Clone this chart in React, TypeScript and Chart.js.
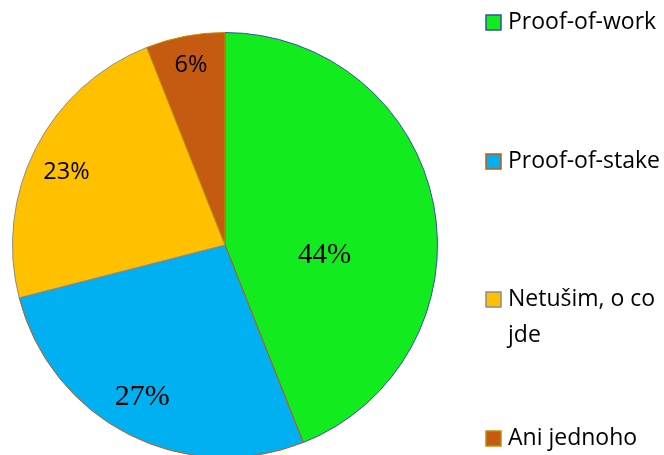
import React, { useEffect, useRef } from "react";
import { Chart, registerables } from "chart.js";

Chart.register(...registerables);

const labels = ["Proof-of-work", "Proof-of-stake", "Netušim, o co jde", "Ani jednoho"];
const values = [44, 27, 23, 6];
const valueLabels = ["44%", "27%", "23%", "6%"];
const legendLines = [["Proof-of-work"], ["Proof-of-stake"], ["Netušim, o co", "jde"], ["Ani jednoho"]];

const fillColors = ["#12EB1E", "#00B0F0", "#FFC000", "#C55A11"];
const borderColors = ["#2F5597", "#C55A11", "#8C8C8C", "#BF9000"];
const labelFonts = [
  "29px 'Liberation Serif'",
  "30px 'Liberation Serif'",
  "23.5px 'Open Sans'",
  "23.5px 'Open Sans'",
];
// label baseline offsets, in units of the pie radius, from the pie centre
const labelOffsets = [
  [0.469, 0.085],
  [-0.39, 0.751],
  [-0.746, -0.31],
  [-0.16, -0.812],
];
const legendBaselines = [29, 168, 306, 445];
const legendLineGap = 36;

const labelPlugin = {
  id: "sliceLabels",
  afterDatasetsDraw(chart: any) {
    const ctx = chart.ctx;
    const meta = chart.getDatasetMeta(0);
    ctx.save();
    meta.data.forEach((arc: any, i: number) => {
      const { x, y, outerRadius } = arc.getProps(["x", "y", "outerRadius"], true);
      ctx.font = labelFonts[i];
      ctx.fillStyle = "#000";
      ctx.textAlign = "center";
      ctx.textBaseline = "alphabetic";
      ctx.fillText(valueLabels[i], x + labelOffsets[i][0] * outerRadius, y + labelOffsets[i][1] * outerRadius);
    });
    ctx.restore();
  },
};

const legendPlugin = {
  id: "sideLegend",
  afterDraw(chart: any) {
    const ctx = chart.ctx;
    ctx.save();
    legendLines.forEach((lines, i) => {
      const base = legendBaselines[i];
      ctx.fillStyle = fillColors[i];
      ctx.fillRect(486, base - 14, 15, 15);
      ctx.strokeStyle = borderColors[i];
      ctx.lineWidth = 1.5;
      ctx.strokeRect(486, base - 14, 15, 15);
      ctx.fillStyle = "#000";
      ctx.font = "23px 'Open Sans'";
      ctx.textAlign = "left";
      ctx.textBaseline = "alphabetic";
      lines.forEach((t, j) => ctx.fillText(t, 508, base + j * legendLineGap));
    });
    ctx.restore();
  },
};

export default function App() {
  const ref = useRef<HTMLCanvasElement | null>(null);
  useEffect(() => {
    if (!ref.current) return;
    const chart = new Chart(ref.current, {
      type: "pie",
      data: {
        labels,
        datasets: [
          {
            data: values,
            backgroundColor: fillColors,
            borderColor: borderColors,
            borderWidth: 1,
            hoverOffset: 0,
          },
        ],
      },
      options: {
        responsive: false,
        animation: false,
        layout: { padding: { left: 12, right: 226, top: 32, bottom: 12 } },
        plugins: {
          legend: { display: false },
          tooltip: { enabled: false },
        },
      },
      plugins: [labelPlugin, legendPlugin],
    });
    return () => chart.destroy();
  }, []);
  return (
    <div style={{ position: "fixed", left: 0, top: 0, width: 664, height: 455, overflow: "hidden", background: "#fff" }}>
      <canvas ref={ref} width={664} height={470} style={{ display: "block" }} />
    </div>
  );
}
